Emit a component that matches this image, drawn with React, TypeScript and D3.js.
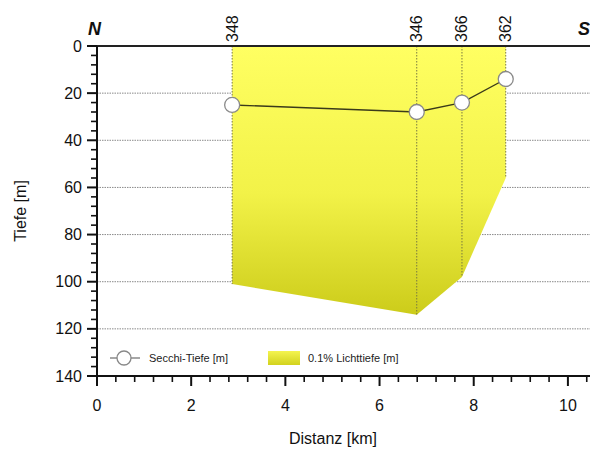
import React from "react";
import * as d3 from "d3";

// Station positions along the transect (km) and their labels
const stations = ["348", "346", "366", "362"];
const distanceKm = [2.87, 6.79, 7.75, 8.68];
// Secchi depth per station (m)
const secchiDepth = [25, 28, 24, 14];
// Depth of 0.1% light level per station (m)
const lightDepth = [101, 114, 98, 56];

const yTicks = [0, 20, 40, 60, 80, 100, 120, 140];
const xTicks = [0, 2, 4, 6, 8, 10];
const gridDepths = [20, 40, 60, 80, 100, 120];

const W = 590;
const H = 450;
const FONT = "'Liberation Sans', Arial, sans-serif";

export default function App() {
  const x = d3.scaleLinear().domain([0, 11]).range([97, 615]);
  const y = d3.scaleLinear().domain([0, 140]).range([46, 376]);

  const pts = distanceKm.map((d, i) => ({ d, s: secchiDepth[i], l: lightDepth[i] }));

  const area = d3
    .area<{ d: number; l: number }>()
    .x((p) => x(p.d))
    .y0(() => y(0))
    .y1((p) => y(p.l))
    .curve(d3.curveLinear);

  const line = d3
    .line<{ d: number; s: number }>()
    .x((p) => x(p.d))
    .y((p) => y(p.s));

  const yMinor = d3.range(0, 141, 4).filter((v) => v % 20 !== 0);
  const xMinor = d3
    .range(0, 11.01, 0.4)
    .map((v) => Math.round(v * 10) / 10)
    .filter((v) => Math.abs(v % 2) > 1e-6 && Math.abs((v % 2) - 2) > 1e-6);

  const maxLight = d3.max(lightDepth) as number;

  return (
    <svg
      width={W}
      height={H}
      style={{ position: "absolute", left: 0, top: 0, background: "#fff" }}
      fontFamily={FONT}
    >
      <defs>
        <linearGradient
          id="lightGrad"
          gradientUnits="userSpaceOnUse"
          x1="0"
          y1={y(0)}
          x2="0"
          y2={y(maxLight)}
        >
          <stop offset="0" stopColor="#ffff62" />
          <stop offset="0.55" stopColor="#f2f248" />
          <stop offset="1" stopColor="#cccc1a" />
        </linearGradient>
        <linearGradient id="legendGrad" x1="0" y1="0" x2="0" y2="1">
          <stop offset="0" stopColor="#f4f450" />
          <stop offset="1" stopColor="#d2d21e" />
        </linearGradient>
      </defs>

      {/* horizontal grid */}
      {gridDepths.map((g) => (
        <line
          key={g}
          x1={x(0)}
          x2={W}
          y1={y(g)}
          y2={y(g)}
          stroke="#8a8a8a"
          strokeWidth={1}
          strokeDasharray="1.5,1"
        />
      ))}

      {/* 0.1% light depth area */}
      <path d={area(pts) as string} fill="url(#lightGrad)" />

      {/* station verticals */}
      {pts.map((p, i) => (
        <line
          key={stations[i]}
          x1={x(p.d)}
          x2={x(p.d)}
          y1={y(0)}
          y2={y(p.l)}
          stroke="#7a7a40"
          strokeWidth={1}
          strokeDasharray="1.5,1.5"
        />
      ))}

      {/* station labels */}
      {pts.map((p, i) => (
        <text
          key={"lab" + stations[i]}
          transform={`translate(${x(p.d) + 5.5},${y(0) - 4}) rotate(-90)`}
          fontSize={16}
          fill="#111"
        >
          {stations[i]}
        </text>
      ))}

      {/* Secchi line */}
      <path d={line(pts) as string} fill="none" stroke="#3a3a1a" strokeWidth={1.4} />
      {pts.map((p, i) => (
        <circle
          key={"c" + i}
          cx={x(p.d)}
          cy={y(p.s)}
          r={7.5}
          fill="#fff"
          stroke="#8a8a8a"
          strokeWidth={1.3}
        />
      ))}

      {/* top border */}
      <line x1={x(0)} x2={W} y1={y(0)} y2={y(0)} stroke="#222" strokeWidth={2} />

      {/* y axis */}
      <line x1={x(0)} x2={x(0)} y1={y(0)} y2={y(140)} stroke="#111" strokeWidth={2} />
      {yTicks.map((t) => (
        <g key={"yt" + t}>
          <line x1={x(0) - 10} x2={x(0)} y1={y(t)} y2={y(t)} stroke="#111" strokeWidth={2} />
          <text x={x(0) - 15} y={y(t) + 5.5} textAnchor="end" fontSize={16} fill="#111">
            {t}
          </text>
        </g>
      ))}
      {yMinor.map((t) => (
        <line key={"ym" + t} x1={x(0) - 6} x2={x(0)} y1={y(t)} y2={y(t)} stroke="#111" strokeWidth={1.6} />
      ))}

      {/* x axis */}
      <line x1={x(0) - 10} x2={W} y1={y(140)} y2={y(140)} stroke="#111" strokeWidth={2} />
      {xTicks.map((t) => (
        <g key={"xt" + t}>
          <line x1={x(t)} x2={x(t)} y1={y(140)} y2={y(140) + 10} stroke="#111" strokeWidth={2} />
          <text x={x(t)} y={y(140) + 35} textAnchor="middle" fontSize={16} fill="#111">
            {t}
          </text>
        </g>
      ))}
      {xMinor.map((t) => (
        <line key={"xm" + t} x1={x(t)} x2={x(t)} y1={y(140)} y2={y(140) + 6} stroke="#111" strokeWidth={1.6} />
      ))}

      {/* axis titles */}
      <text x={333} y={444} textAnchor="middle" fontSize={16} fill="#111">
        Distanz [km]
      </text>
      <text transform={`translate(26,${y(70)}) rotate(-90)`} textAnchor="middle" fontSize={16} fill="#111">
        Tiefe [m]
      </text>

      {/* direction markers */}
      <text x={88} y={35} fontSize={18} fontWeight="bold" fontStyle="italic" fill="#111">
        N
      </text>
      <text x={578} y={35} fontSize={18} fontWeight="bold" fontStyle="italic" fill="#111">
        S
      </text>

      {/* legend */}
      <line x1={110} x2={140} y1={358} y2={358} stroke="#777" strokeWidth={1.3} />
      <circle cx={124} cy={358} r={7} fill="#fff" stroke="#888" strokeWidth={1.3} />
      <text x={149} y={362} fontSize={11} fill="#222">
        Secchi-Tiefe [m]
      </text>
      <rect x={268} y={351} width={32} height={14} fill="url(#legendGrad)" />
      <text x={308} y={362} fontSize={11} fill="#222">
        0.1% Lichttiefe [m]
      </text>
    </svg>
  );
}
